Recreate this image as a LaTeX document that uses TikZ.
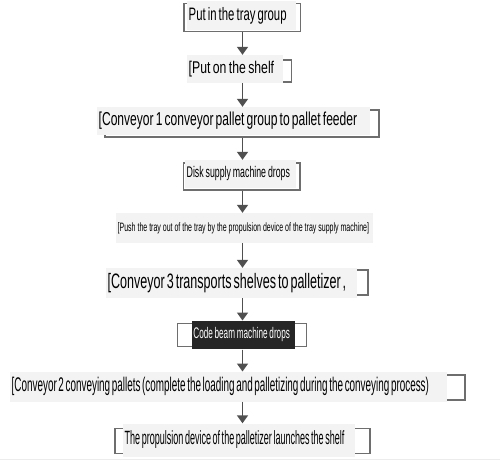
\documentclass[tikz,border=0pt]{standalone}
\usepackage{fontspec}
\setmainfont{Liberation Sans}
\usepackage{graphicx}
\usepackage{tikz}
\usetikzlibrary{arrows.meta}
\definecolor{framegray}{HTML}{6E6E6E}
\definecolor{arrowgray}{HTML}{505050}
\definecolor{boxfill}{HTML}{F3F3F3}
\definecolor{darkbox}{HTML}{262626}
% condensed text: size, horizontal factor, text
\newcommand{\cond}[3]{{\fontsize{#1}{#1}\selectfont\scalebox{#2}[1]{#3}}}

\begin{document}
\begin{tikzpicture}[x=1pt,y=-1pt,>={Triangle[width=11pt,length=8pt]},
    frame/.style={draw=framegray, line width=1.3pt, fill=white, inner sep=0pt},
    stepbox/.style={fill=boxfill, anchor=west, inner xsep=1.5pt, inner ysep=0pt, align=left},
    flow/.style={->, draw=arrowgray, fill=arrowgray, line width=1.6pt}]

    \useasboundingbox (0,0) rectangle (500,467);
    \coordinate (ax) at (242.5,0);

%the bracket frames behind the steps
    \node[frame, minimum width=116.7pt, minimum height=28.4pt] (trayfr) at (242.3,17.5) {};
    \node[frame, minimum width=91.7pt, minimum height=22pt] (shelffr) at (245.8,71) {};
    \node[frame, minimum width=274pt, minimum height=27pt] (conva) at (242,123.5) {};
    \node[frame, minimum width=116.7pt, minimum height=27pt] (diskfr) at (241.7,176.5) {};
    \node[frame, minimum width=248pt, minimum height=25pt] (convc) at (244,282.5) {};
    \node[frame, minimum width=129.4pt, minimum height=23.4pt] (codefr) at (242,335) {};
    \node[frame, minimum width=445pt, minimum height=25pt] (convb) at (242.5,387.5) {};
    \node[frame, minimum width=255pt, minimum height=25pt] (launchfr) at (242.5,440.8) {};

%the steps
    \node[stepbox, text width=106pt, minimum height=29pt] (tray) at (187,15.5)
        {\cond{18}{0.63}{Put in the tray group}};
    \node[stepbox, text width=93pt, minimum height=28pt] (shelf) at (187,69)
        {\cond{17}{0.72}{[Put on the shelf}};
    \node[stepbox, text width=270pt, minimum height=28pt] (feed) at (97,121)
        {\cond{18.7}{0.645}{[Conveyor 1 conveyor pallet group to pallet feeder}};
    \node[stepbox, text width=108pt, minimum height=28pt] (disk) at (185,174)
        {\cond{15.4}{0.57}{Disk supply machine drops}};
    \node[stepbox, text width=254pt, minimum height=30pt] (push) at (116,228)
        {\cond{12.1}{0.58}{[Push the tray out of the tray by the propulsion device of the tray supply machine]}};
    \node[stepbox, text width=248pt, minimum height=30pt] (transport) at (106,283)
        {\cond{20.9}{0.60}{[Conveyor 3 transports shelves to palletizer ,}};
    \node[stepbox, fill=darkbox, text=white, text width=100pt, minimum height=28.6pt] (code) at (191.7,335)
        {\cond{15.4}{0.53}{Code beam machine drops}};
    \node[stepbox, text width=434pt, minimum height=30pt] (pallets) at (10,386.7)
        {\cond{19.8}{0.50}{[Conveyor 2 conveying pallets (complete the loading and palletizing during the conveying process)}};
    \node[stepbox, text width=229pt, minimum height=33pt] (launch) at (123,440)
        {\cond{19.2}{0.47}{The propulsion device of the palletizer launches the shelf}};

% the arrows
    \draw[flow] (trayfr.south -| ax) -- (shelf.north -| ax);
    \draw[flow] (shelf.south -| ax) -- (feed.north -| ax);
    \draw[flow] (conva.south -| ax) -- (disk.north -| ax);
    \draw[flow] (diskfr.south -| ax) -- (push.north -| ax);
    \draw[flow] (push.south -| ax) -- (transport.north -| ax);
    \draw[flow] (transport.south -| ax) -- (code.north -| ax);
    \draw[flow] (code.south -| ax) -- (pallets.north -| ax);
    \draw[flow] (pallets.south -| ax) -- (launch.north -| ax);

    \draw[gray!15, line width=0.8pt] (0,459.3) -- (500,459.3);
\end{tikzpicture}
\end{document}
